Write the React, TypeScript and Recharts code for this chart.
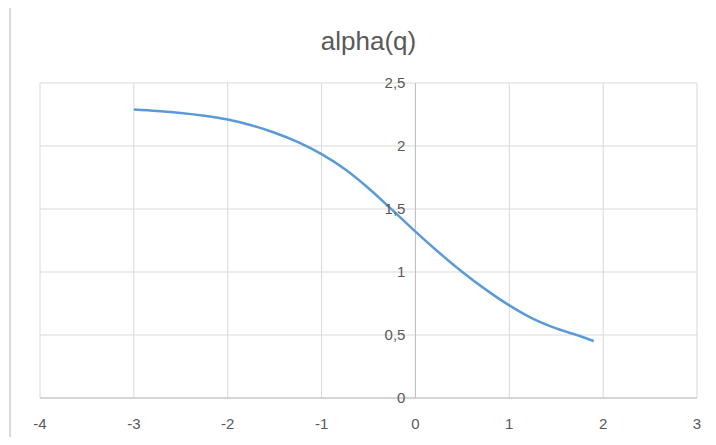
import { LineChart, Line, XAxis, YAxis, CartesianGrid, ReferenceLine } from "recharts";

const qValues = [-3, -2.75, -2.5, -2.25, -2, -1.75, -1.5, -1.25, -1, -0.75, -0.5, -0.25, 0, 0.25, 0.5, 0.75, 1, 1.25, 1.5, 1.75, 1.9];
const alphaValues = [2.29, 2.278, 2.262, 2.24, 2.21, 2.165, 2.105, 2.03, 1.935, 1.815, 1.665, 1.495, 1.32, 1.155, 1.0, 0.86, 0.735, 0.63, 0.552, 0.492, 0.452];
const xTicks = [-4, -3, -2, -1, 0, 1, 2, 3];
const yTicks = [0, 0.5, 1, 1.5, 2, 2.5];

const data = qValues.map((q, i) => ({ q, alpha: alphaValues[i] }));

const W = 716;
const H = 445;
const PLOT_LEFT = 40;
const PLOT_RIGHT = 697;
const PLOT_TOP = 83;
const PLOT_BOTTOM = 398;
const X_AXIS_H = 30;
const FONT = "'Liberation Sans', Arial, sans-serif";
const TEXT = "#595959";

// y axis crosses at q = 0, so its labels are moved there
const Y_SHIFT = ((PLOT_RIGHT - PLOT_LEFT) * 4) / 7;

function YTick(props: { x?: number; y?: number; payload?: { value: number } }) {
  const { x = 0, y = 0, payload } = props;
  return (
    <text
      x={x + Y_SHIFT - 2}
      y={y}
      dy={5}
      textAnchor="end"
      fill={TEXT}
      fontSize={15}
      fontFamily={FONT}
    >
      {String(payload?.value).replace(".", ",")}
    </text>
  );
}

export default function App() {
  return (
    <div style={{ position: "relative", margin: -8, width: W, height: H, background: "#fff", overflow: "hidden" }}>
      <svg width={W} height={H} style={{ position: "absolute", left: 0, top: 0 }}>
        <rect x={9} y={4} width={W} height={2} fill="#d9d9d9" />
        <rect x={9} y={4} width={2} height={H} fill="#d9d9d9" />
      </svg>
      <div
        style={{
          position: "absolute",
          left: 0,
          width: PLOT_LEFT + PLOT_RIGHT,
          top: 26,
          textAlign: "center",
          fontFamily: FONT,
          fontSize: 26,
          color: TEXT,
        }}
      >
        alpha(q)
      </div>
      <div style={{ position: "absolute", left: 0, top: 0 }}>
        <LineChart
          width={W}
          height={H}
          data={data}
          margin={{
            top: PLOT_TOP,
            right: W - PLOT_RIGHT,
            bottom: H - PLOT_BOTTOM - X_AXIS_H,
            left: PLOT_LEFT - 1,
          }}
        >
          <CartesianGrid stroke="#d9d9d9" strokeWidth={1} />
          <XAxis
            dataKey="q"
            type="number"
            domain={[-4, 3]}
            ticks={xTicks}
            height={X_AXIS_H}
            stroke="#bfbfbf"
            tickLine={false}
            tickMargin={14}
            tick={{ fill: TEXT, fontSize: 15, fontFamily: FONT }}
            allowDataOverflow
          />
          <YAxis
            type="number"
            domain={[0, 2.5]}
            ticks={yTicks}
            width={1}
            axisLine={false}
            tickLine={false}
            tick={<YTick />}
          />
          <ReferenceLine x={0} stroke="#bfbfbf" strokeWidth={1} />
          <Line
            dataKey="alpha"
            type="monotone"
            stroke="#5b9bd5"
            strokeWidth={2.5}
            dot={false}
            isAnimationActive={false}
          />
        </LineChart>
      </div>
    </div>
  );
}
